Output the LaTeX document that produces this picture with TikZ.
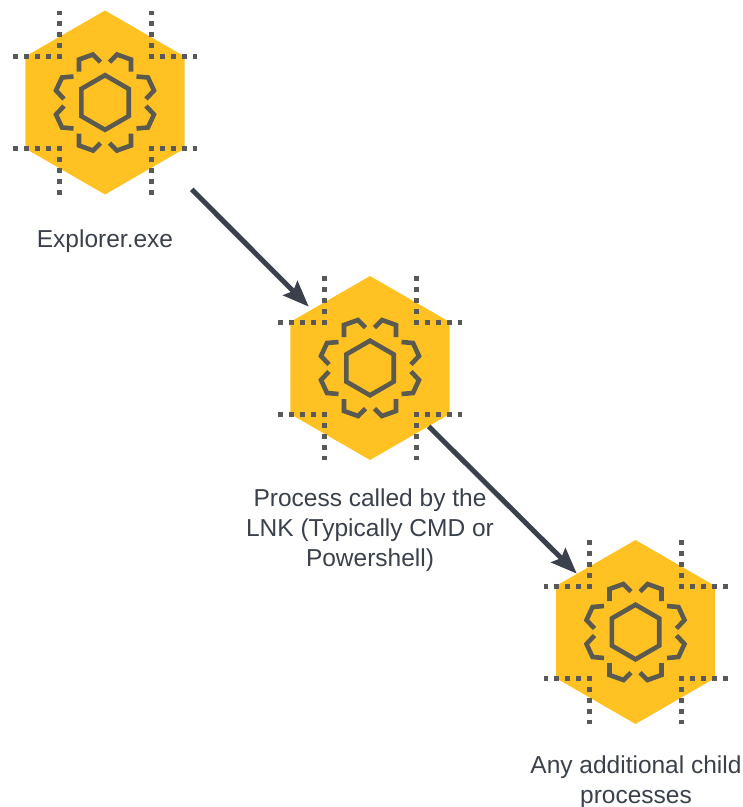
\documentclass[tikz,border=0pt]{standalone}
\usepackage{fontspec}
\setmainfont{Liberation Sans}
\usetikzlibrary{arrows.meta,shapes.geometric}
\definecolor{hexfill}{HTML}{FFC222}
\definecolor{iconline}{HTML}{5A5A50}
\definecolor{dotline}{HTML}{595959}
\definecolor{inkdark}{HTML}{3A414C}
\tikzset{
  x=1pt,y=-1pt,
  hexnode/.style={shape=regular polygon,regular polygon sides=6,regular polygon rotate=0,shape border rotate=30,minimum size=184pt,inner sep=0pt,fill=hexfill,draw=none},
  iconstroke/.style={draw=iconline,line width=4.6pt,miter limit=10},
  dotstroke/.style={draw=dotline,line width=5pt,dash pattern=on 5pt off 6pt},
  flowarrow/.style={draw=inkdark,line width=5pt,-{Stealth[length=26pt,width=20pt,inset=4pt]}},
  labeltext/.style={align=center,font=\fontsize{24.5}{30}\selectfont,text=inkdark,inner sep=0pt},
  pics/procicon/.style={code={
    \path[iconstroke] (0,-27.3) -- (23.7,-13.6) -- (23.7,13.6) -- (0,27.3) -- (-23.7,13.6) -- (-23.7,-13.6) -- cycle;
    \foreach \sx/\sy in {1/1,-1/1,1/-1,-1/-1}{
      \begin{scope}[xscale=\sx,yscale=\sy]
        \path[dotstroke] (46,-43.5) -- (46,-92);
        \path[dotstroke] (43.5,-46) -- (92,-46);
        \path[iconstroke] (4.5,-40.5) -- (12,-48) -- (26,-43) -- (26,-31);
        \path[iconstroke] (31.5,-26) -- (43,-25) -- (49,-12) -- (41,-3.5);
      \end{scope}
    }
  }}
}
\begin{document}
\begin{tikzpicture}
  \useasboundingbox (0,0) rectangle (743,807);
  \node[hexnode] (h1) at (105,102.5) {};
  \node[hexnode] (h2) at (370,368) {};
  \node[hexnode] (h3) at (635.5,632) {};
  \pic at (h1.center) {procicon};
  \pic at (h2.center) {procicon};
  \pic at (h3.center) {procicon};
  \draw[flowarrow,shorten <=40pt,shorten >=4pt] (h1) -- (h2);
  \draw[flowarrow,shorten >=0pt] (h2) -- (h3);
  \node[labeltext] (t1) at (105,241) {Explorer.exe};
  \node[labeltext] (t2) at (370,530) {Process called by the\\LNK (Typically CMD or\\Powershell)};
  \node[labeltext] (t3) at (636,782) {Any additional child\\processes};
\end{tikzpicture}
\end{document}
